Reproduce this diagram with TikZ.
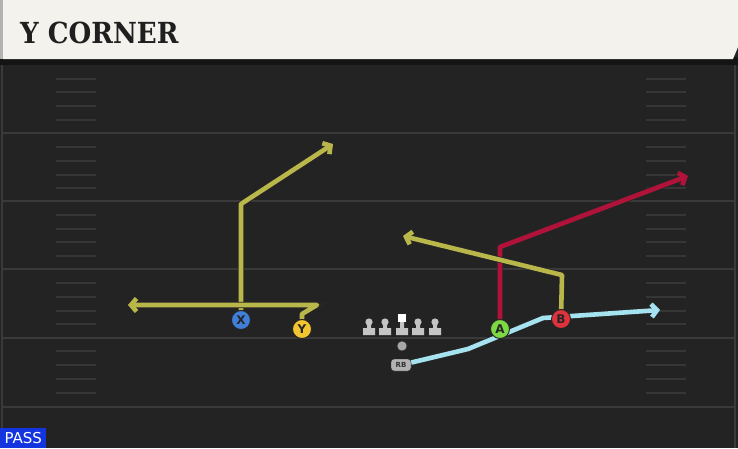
\documentclass[tikz,border=0pt]{standalone}
\usepackage{fontspec}
\setmainfont{DejaVu Sans}
\newfontfamily\titlefont{DejaVu Serif Condensed}
\usetikzlibrary{arrows.meta}
\definecolor{fieldbg}{HTML}{232323}
\definecolor{headbg}{HTML}{F4F2EC}
\definecolor{yardcol}{HTML}{3A3A3A}
\definecolor{hashcol}{HTML}{363636}
\definecolor{olivecol}{HTML}{B9B64A}
\definecolor{redcol}{HTML}{B0123A}
\definecolor{bluecol}{HTML}{A6E3F0}
\definecolor{xblue}{HTML}{3F7FD8}
\definecolor{yyellow}{HTML}{F2C530}
\definecolor{agreen}{HTML}{7DD844}
\definecolor{bred}{HTML}{E0323C}
\definecolor{passblue}{HTML}{1434E0}
\definecolor{linecol}{HTML}{C4C4C4}
\pgfdeclarelayer{field}
\pgfdeclarelayer{routes}
\pgfsetlayers{field,routes,main}

\begin{document}
\begin{tikzpicture}[x=1pt,y=-1pt,>={Straight Barb[length=5.5pt,width=13pt]},
		route/.style={->,line width=4.6pt,line join=round,preaction={draw=black!85,line width=6.2pt}},
		player/.style={circle,draw=black!85,line width=0.9pt,minimum size=19pt,inner sep=0pt,text=black!85,font=\bfseries\fontsize{12}{12}\selectfont},
		yard/.style={draw=yardcol,line width=1.6pt},
		hash/.style={draw=hashcol,line width=1.1pt}]
		\useasboundingbox (0,0) rectangle (738,448);
		\begin{pgfonlayer}{field}
		\fill[fieldbg] (0,0) rectangle (738,448);
		\draw[yard] (2,65) -- (2,448) (735,65) -- (735,448);
		\foreach \yy in {133,201,269,338,407}
			\draw[yard] (3,\yy) -- (735,\yy);
		\foreach \yy in {79,92,106,120,147,161,175,188,215,229,242,256,283,297,311,324,351,365,379,393}
			\draw[hash] (56,\yy) -- (96,\yy) (646,\yy) -- (686,\yy);
		\fill[black!92] (0,57) rectangle (738,65);
		\fill[headbg] (3,0) -- (738,0) -- (738,47) -- (733,59) -- (3,59) -- cycle;
		\fill[gray!60] (0,0) rectangle (3,59);
		\end{pgfonlayer}
		\node[anchor=base west,font=\titlefont\bfseries\fontsize{29}{29}\selectfont,text=black!88,inner sep=0pt] (title) at (20,43) {Y CORNER};
		\node[anchor=south west,fill=passblue,text=white,minimum width=46pt,minimum height=20pt,inner sep=0pt,font=\fontsize{15}{15}\selectfont] (pass) at (0,448) {PASS};

		\node[player,fill=xblue] (x) at (241,320) {X};
		\node[player,fill=yyellow] (y) at (302,329) {Y};
		\node[player,fill=agreen] (a) at (500,329) {A};
		\node[player,fill=bred] (b) at (561,319) {B};
		\node[circle,fill=gray!70,draw=black!85,minimum size=10pt,inner sep=0pt] (qb) at (402,346) {};
		\node[rounded corners=3pt,fill=gray!60,draw=black!85,minimum width=20pt,minimum height=12pt,inner sep=0pt,text=black!80,font=\bfseries\fontsize{7}{7}\selectfont] (rb) at (401,365) {RB};

		\foreach \lx in {369,385,418,435} {
			\fill[black!85] (\lx-7,327) rectangle (\lx+7,336) (\lx-3,321) rectangle (\lx+3,328) (\lx,322) circle (4.6pt);
			\fill[linecol] (\lx-6,328) rectangle (\lx+6,335) (\lx-2,322) rectangle (\lx+2,328) (\lx,322) circle (3.6pt);
		}
		\fill[black!85] (395,327) rectangle (409,336) (399,321) rectangle (405,328) (397,313) rectangle (407,323);
		\fill[linecol] (396,328) rectangle (408,335) (400,322) rectangle (404,328);
		\fill[white] (398,314) rectangle (406,322);

		\coordinate (xbreak) at (241,204);
		\coordinate (xend) at (333,144);
		\coordinate (ybend1) at (302,314);
		\coordinate (ybend2) at (317,305);
		\coordinate (yend) at (128,305);
		\coordinate (abreak) at (500,247);
		\coordinate (aend) at (688,176);
		\coordinate (bbreak) at (562,275);
		\coordinate (bend) at (403,236);
		\coordinate (rbbend1) at (468,349);
		\coordinate (rbbend2) at (543,318);
		\coordinate (rbend) at (660,310);
		\begin{pgfonlayer}{routes}
		\draw[route,olivecol] (x) -- (xbreak) -- (xend);
		\draw[route,olivecol] (y) -- (ybend1) -- (ybend2) -- (yend);
		\draw[route,redcol] (a) -- (abreak) -- (aend);
		\draw[route,olivecol] (b) -- (bbreak) -- (bend);
		\draw[route,bluecol] (rb) -- (rbbend1) -- (rbbend2) -- (rbend);
		\end{pgfonlayer}
\end{tikzpicture}
\end{document}
